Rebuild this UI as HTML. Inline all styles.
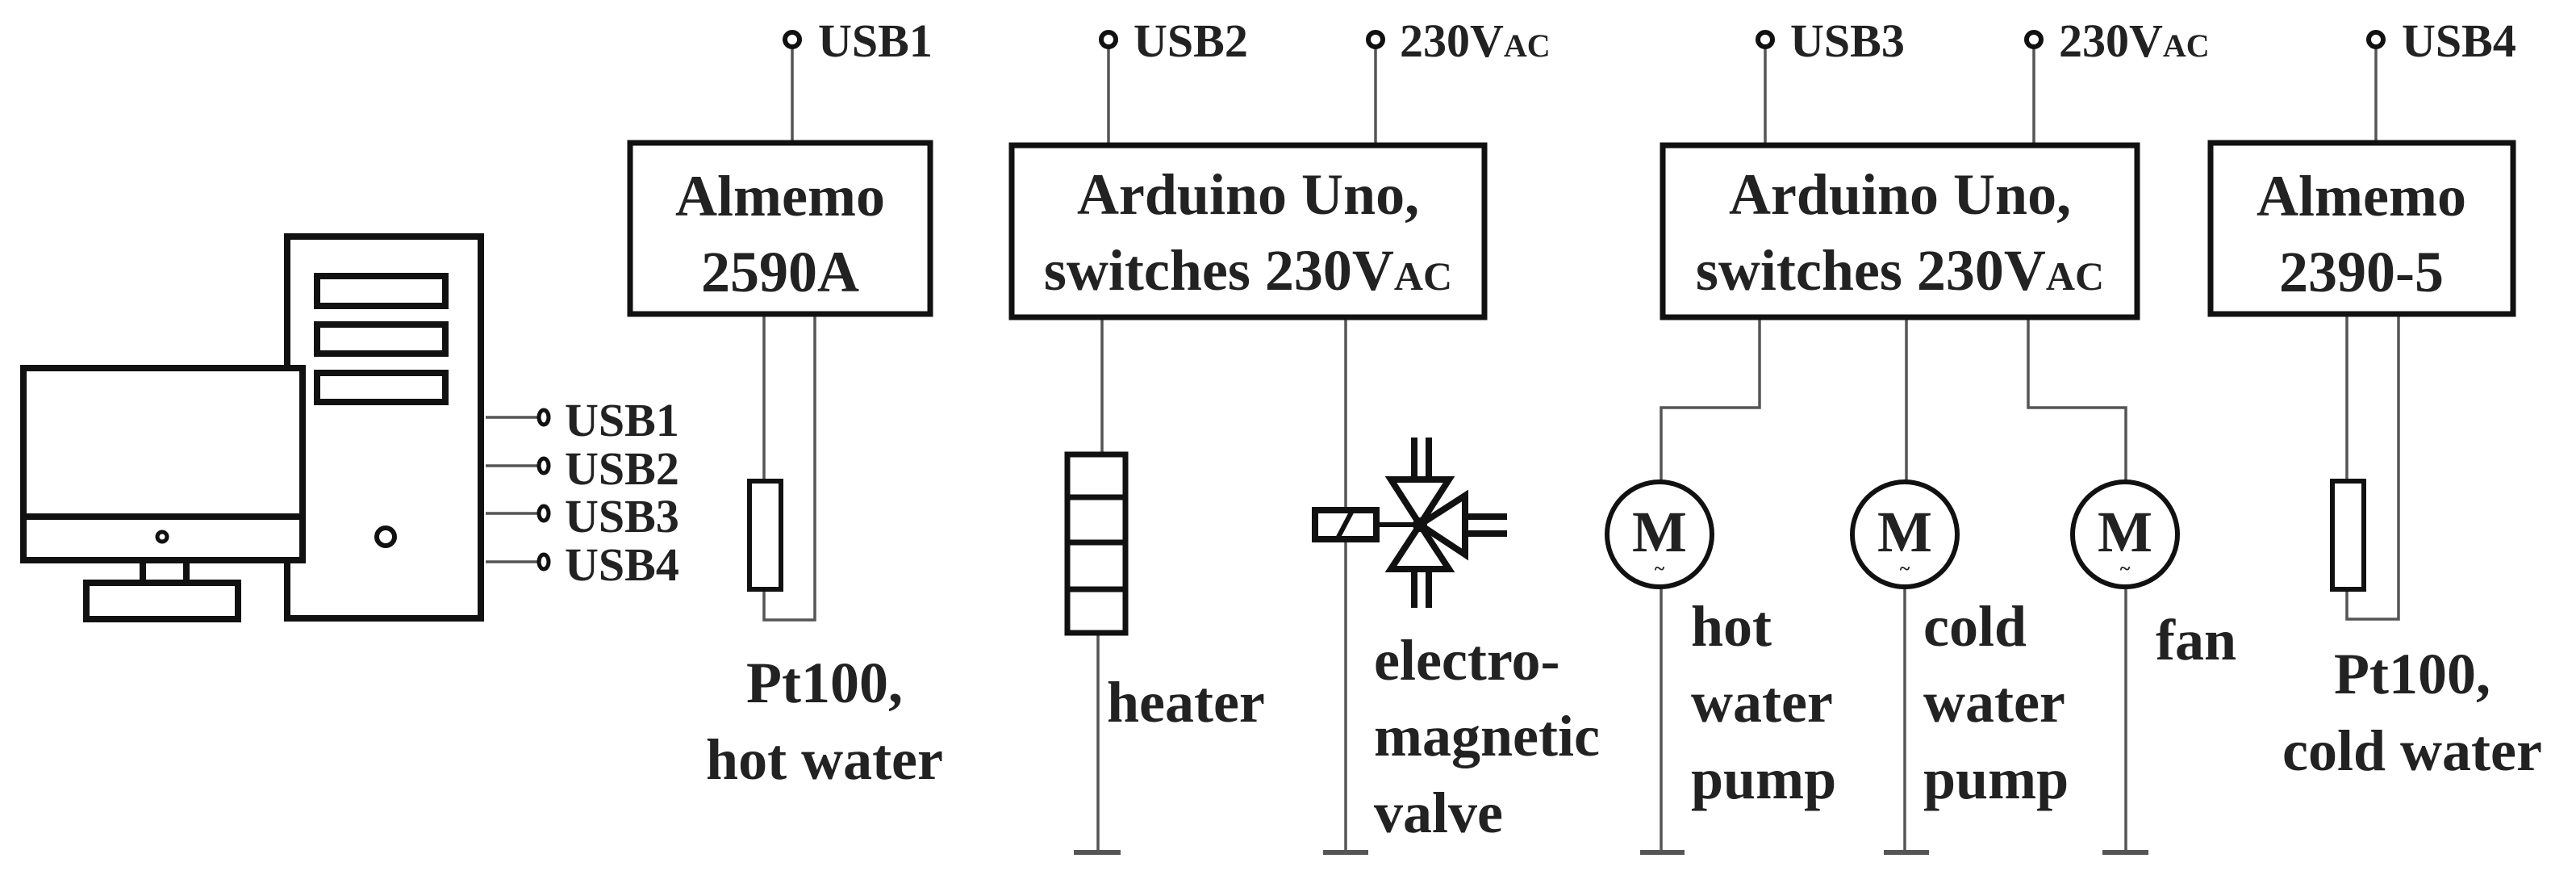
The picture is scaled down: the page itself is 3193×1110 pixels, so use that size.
<!DOCTYPE html>
<html><head><meta charset="utf-8"><style>
html,body{margin:0;padding:0;background:#fff}
svg{display:block}
svg text{font-family:"Liberation Serif","DejaVu Serif","Times New Roman",serif;font-weight:bold;fill:#222}
</style></head><body>
<svg width="3193" height="1110" viewBox="0 0 3193 1110" xmlns="http://www.w3.org/2000/svg" font-family="Liberation Serif, DejaVu Serif, serif">
<!-- computer -->
<g fill="none" stroke="#111" stroke-width="8">
<rect x="29" y="456" width="346" height="238"/>
<line x1="29" y1="640" x2="375" y2="640"/>
<rect x="177" y="694" width="54" height="28"/>
<rect x="107" y="722" width="188" height="45"/>
<path d="M356 456 V293 H596 V766 H356 V694"/>
<rect x="393" y="342" width="159" height="37"/>
<rect x="393" y="402" width="159" height="36"/>
<rect x="393" y="462" width="159" height="36"/>
<circle cx="478" cy="665" r="11" stroke-width="6"/>
<circle cx="201" cy="665" r="6" stroke-width="5"/>
</g>
<g stroke="#555" stroke-width="3.5">
<line x1="602" y1="517" x2="670" y2="517"/>
<line x1="602" y1="577" x2="670" y2="577"/>
<line x1="602" y1="636" x2="670" y2="636"/>
<line x1="602" y1="696" x2="670" y2="696"/>
</g>
<g fill="#fff" stroke="#111" stroke-width="5">
<ellipse cx="674" cy="517" rx="6" ry="9"/>
<ellipse cx="674" cy="577" rx="6" ry="9"/>
<ellipse cx="674" cy="636" rx="6" ry="9"/>
<ellipse cx="674" cy="696" rx="6" ry="9"/>
</g>
<g font-size="58">
<text x="700" y="540">USB1</text>
<text x="700" y="600">USB2</text>
<text x="700" y="659">USB3</text>
<text x="700" y="719">USB4</text>
</g>

<g fill="none" stroke="#555" stroke-width="3.5">
<line x1="982" y1="58" x2="982" y2="177"/>
<line x1="1374" y1="58" x2="1374" y2="180"/>
<line x1="1705" y1="58" x2="1705" y2="180"/>
<line x1="2188" y1="58" x2="2188" y2="180"/>
<line x1="2521" y1="58" x2="2521" y2="180"/>
<line x1="2945" y1="58" x2="2945" y2="177"/>
<path d="M947 389 V596 M947 730 V768 H1010 V389"/>
<path d="M2909 389 V596 M2909 730 V767 H2973 V389"/>
<path d="M1366 393 V563 M1361 784 V1056"/>
<path d="M1668 393 V1056"/>
<path d="M2181 393 V505 H2059 V595 M2059 729 V1056"/>
<path d="M2363 393 V595 M2361 729 V1056"/>
<path d="M2514 393 V505 H2635 V595 M2635 729 V1056"/>
</g>
<g stroke="#555" stroke-width="6">
<line x1="1331" y1="1056" x2="1389" y2="1056"/>
<line x1="1640" y1="1056" x2="1696" y2="1056"/>
<line x1="2033" y1="1056" x2="2088" y2="1056"/>
<line x1="2335" y1="1056" x2="2391" y2="1056"/>
<line x1="2606" y1="1056" x2="2663" y2="1056"/>
</g>
<g fill="#fff" stroke="#111" stroke-width="6">
<circle cx="982" cy="49" r="9"/>
<circle cx="1374" cy="49" r="9"/>
<circle cx="1705" cy="49" r="9"/>
<circle cx="2188" cy="49" r="9"/>
<circle cx="2521" cy="49" r="9"/>
<circle cx="2945" cy="49" r="9"/>
</g>
<g font-size="58">
<text x="1014" y="70">USB1</text>
<text x="1405" y="70">USB2</text>
<text x="1735" y="70">230V<tspan font-size="40">AC</tspan></text>
<text x="2219" y="70">USB3</text>
<text x="2552" y="70">230V<tspan font-size="40">AC</tspan></text>
<text x="2977" y="70">USB4</text>
</g>

<g fill="none" stroke="#111" stroke-width="7">
<rect x="781" y="177" width="372" height="212"/>
<rect x="1254" y="180" width="586" height="213"/>
<rect x="2061" y="180" width="588" height="213"/>
<rect x="2740" y="177" width="375" height="212"/>
<rect x="929" y="596" width="39" height="134" stroke-width="6"/>
<rect x="2891" y="596" width="39" height="134" stroke-width="6"/>
<rect x="1323" y="563" width="72" height="221"/>
<line x1="1323" y1="616" x2="1395" y2="616"/>
<line x1="1323" y1="672" x2="1395" y2="672"/>
<line x1="1323" y1="730" x2="1395" y2="730"/>
</g>
<g font-size="72" text-anchor="middle">
<text x="967" y="267">Almemo</text>
<text x="967" y="361">2590A</text>
<text x="1547" y="265">Arduino Uno,</text>
<text x="1547" y="359">switches 230V<tspan font-size="50">AC</tspan></text>
<text x="2355" y="265">Arduino Uno,</text>
<text x="2355" y="359">switches 230V<tspan font-size="50">AC</tspan></text>
<text x="2927" y="267">Almemo</text>
<text x="2927" y="361">2390-5</text>
<text x="1022" y="870">Pt100,</text>
<text x="1022" y="965">hot water</text>
<text x="2990" y="859">Pt100,</text>
<text x="2990" y="954">cold water</text>
</g>
<g fill="none" stroke="#111" stroke-width="8">
<rect x="1630" y="632" width="76" height="36" fill="#fff"/>
<line x1="1658" y1="667" x2="1677" y2="631" stroke-width="6"/>
<line x1="1706" y1="650" x2="1760" y2="650" stroke-width="6"/>
<polygon points="1724,594 1796,594 1760,650"/>
<polygon points="1724,705 1796,705 1760,650"/>
<polygon points="1816,614 1816,687 1760,650"/>
<path d="M1753 542 V594 M1771 542 V594 M1753 705 V753 M1771 705 V753 M1816 640 H1868 M1816 661 H1868"/>
</g>
<circle cx="1760" cy="650" r="9" fill="#111"/>
<g fill="#fff" stroke="#111" stroke-width="6">
<circle cx="2057" cy="662" r="65"/>
<circle cx="2361" cy="662" r="65"/>
<circle cx="2634" cy="662" r="65"/>
</g>
<g font-size="72" text-anchor="middle">
<text x="2057" y="683">M</text>
<text x="2361" y="683">M</text>
<text x="2634" y="683">M</text>
</g>
<g font-size="24" text-anchor="middle">
<text x="2057" y="712">~</text>
<text x="2361" y="712">~</text>
<text x="2634" y="712">~</text>
</g>
<g font-size="72">
<text x="1372" y="894">heater</text>
<text x="1703" y="842">electro-</text>
<text x="1703" y="936">magnetic</text>
<text x="1703" y="1031">valve</text>
<text x="2096" y="800">hot</text>
<text x="2096" y="894">water</text>
<text x="2096" y="989">pump</text>
<text x="2384" y="800">cold</text>
<text x="2384" y="894">water</text>
<text x="2384" y="989">pump</text>
<text x="2672" y="817">fan</text>
</g>
</svg>
</body></html>
